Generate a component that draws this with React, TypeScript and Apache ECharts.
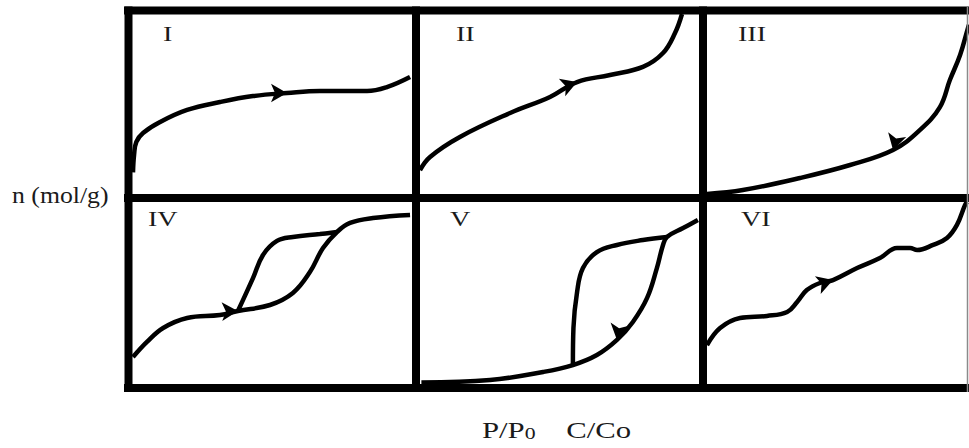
import React, { useEffect, useRef } from "react";
import * as echarts from "echarts";

// Isotherm types I–VI: x = relative pressure (P/P0 or C/Co), y = amount adsorbed n (normalised)
const panelLabels = ["I", "II", "III", "IV", "V", "VI"];

const typeI: number[][] = [
  [0, 0.12], [0.004, 0.22], [0.012, 0.29], [0.036, 0.339], [0.097, 0.4], [0.194, 0.467],
  [0.312, 0.511], [0.43, 0.544], [0.552, 0.561], [0.67, 0.572], [0.839, 0.572],
  [0.91, 0.594], [0.993, 0.65],
];

const typeII: number[][] = [
  [0, 0.133], [0.036, 0.206], [0.143, 0.317], [0.323, 0.45], [0.466, 0.539],
  [0.563, 0.622], [0.681, 0.661], [0.799, 0.706], [0.871, 0.783], [0.914, 0.894],
  [0.939, 1.0],
];

const typeIII: number[][] = [
  [0, 0.0], [0.137, 0.022], [0.355, 0.089], [0.546, 0.161], [0.71, 0.244],
  [0.813, 0.356], [0.889, 0.483], [0.927, 0.633], [0.966, 0.772], [0.996, 0.922],
  [1.0, 0.94],
];

const typeIVAdsorption: number[][] = [
  [0, 0.148], [0.05, 0.231], [0.108, 0.308], [0.194, 0.363], [0.312, 0.379],
  [0.376, 0.401], [0.491, 0.434], [0.573, 0.5], [0.634, 0.615], [0.681, 0.747],
  [0.731, 0.835], [0.778, 0.885], [0.86, 0.912], [0.993, 0.929],
];
const typeIVDesorption: number[][] = [
  [0.731, 0.835], [0.67, 0.824], [0.573, 0.808], [0.516, 0.786], [0.466, 0.709],
  [0.43, 0.582], [0.376, 0.401],
];

const typeVAdsorption: number[][] = [
  [0.005, 0.008], [0.251, 0.022], [0.441, 0.066], [0.548, 0.104], [0.634, 0.159],
  [0.706, 0.242], [0.763, 0.341], [0.814, 0.473], [0.849, 0.637], [0.871, 0.764],
  [0.885, 0.808], [0.943, 0.857], [0.996, 0.901],
];
const typeVDesorption: number[][] = [
  [0.885, 0.808], [0.799, 0.791], [0.706, 0.764], [0.634, 0.725], [0.584, 0.637],
  [0.563, 0.505], [0.55, 0.308], [0.548, 0.104],
];

const typeVI: number[][] = [
  [0, 0.214], [0.05, 0.308], [0.126, 0.363], [0.229, 0.374], [0.306, 0.396],
  [0.344, 0.451], [0.381, 0.516], [0.431, 0.555], [0.481, 0.571], [0.573, 0.637],
  [0.66, 0.692], [0.725, 0.747], [0.775, 0.747], [0.802, 0.736], [0.863, 0.764],
  [0.916, 0.802], [0.954, 0.874], [0.985, 0.984], [0.993, 1.0],
];

// Direction markers on each isotherm: [x, y]
const markerPoints: number[][] = [
  [0.552, 0.561], [0.563, 0.622], [0.71, 0.244],
  [0.376, 0.401], [0.706, 0.242], [0.481, 0.571],
];
const markerRotation = [-90, -70, 165, -88, 170, -72];

const curves: number[][][][] = [
  [typeI], [typeII], [typeIII],
  [typeIVAdsorption, typeIVDesorption],
  [typeVAdsorption, typeVDesorption],
  [typeVI],
];

// Panel placement in pixels
const colLeft = [133, 420, 707];
const colWidth = [279, 279, 262];
const rowTop = [14, 202];
const rowHeight = [180, 182];

export default function App() {
  const ref = useRef<HTMLDivElement>(null);

  useEffect(() => {
    if (!ref.current) return;
    const chart = echarts.init(ref.current, null, { renderer: "svg" });

    const grids: any[] = [];
    const xAxes: any[] = [];
    const yAxes: any[] = [];
    const series: any[] = [];

    panelLabels.forEach((_, i) => {
      const col = i % 3;
      const row = Math.floor(i / 3);
      grids.push({
        left: colLeft[col],
        top: rowTop[row],
        width: colWidth[col],
        height: rowHeight[row],
        containLabel: false,
      });
      xAxes.push({ type: "value", gridIndex: i, min: 0, max: 1, show: false });
      yAxes.push({ type: "value", gridIndex: i, min: 0, max: 1, show: false });
      curves[i].forEach((data) => {
        series.push({
          type: "line",
          xAxisIndex: i,
          yAxisIndex: i,
          data,
          smooth: 0.4,
          showSymbol: false,
          lineStyle: { color: "#000", width: 4.5 },
          silent: true,
        });
      });
      series.push({
        type: "scatter",
        xAxisIndex: i,
        yAxisIndex: i,
        data: [markerPoints[i]],
        symbol: "arrow",
        symbolSize: [14, 16],
        symbolRotate: markerRotation[i],
        itemStyle: { color: "#000", opacity: 1 },
        silent: true,
        z: 5,
      });
    });

    const frame = { stroke: "#000", lineWidth: 8 };
    const serif = "'Liberation Serif', 'DejaVu Serif', serif";
    const stretch = 1.28;

    const numeralPos = [
      [163, 44], [456, 44], [738, 44],
      [148, 229], [450, 229], [741, 229],
    ];

    const graphic: any[] = [
      { type: "line", z: 100, shape: { x1: 124, y1: 10.5, x2: 975, y2: 10.5 }, style: frame },
      { type: "line", z: 100, shape: { x1: 124, y1: 198, x2: 975, y2: 198 }, style: frame },
      { type: "line", z: 100, shape: { x1: 124, y1: 388, x2: 975, y2: 388 }, style: frame },
      { type: "line", z: 100, shape: { x1: 128.5, y1: 6.5, x2: 128.5, y2: 392 }, style: frame },
      { type: "line", z: 100, shape: { x1: 416, y1: 6.5, x2: 416, y2: 392 }, style: frame },
      { type: "line", z: 100, shape: { x1: 703, y1: 6.5, x2: 703, y2: 392 }, style: frame },
      { type: "line", z: 100, shape: { x1: 967.5, y1: 7, x2: 967.5, y2: 392 }, style: { stroke: "#8a8a8a", lineWidth: 1.5 } },
      ...panelLabels.map((label, i) => ({
        type: "text",
        z: 110,
        x: numeralPos[i][0],
        y: numeralPos[i][1],
        scaleX: stretch,
        style: {
          text: label,
          font: `22px ${serif}`,
          fill: "#1a1a1a",
          textAlign: "left",
          textVerticalAlign: "bottom",
        },
      })),
      {
        type: "text",
        z: 110,
        x: 12,
        y: 195,
        scaleX: 1.12,
        style: {
          text: "n (mol/g)",
          font: `23px ${serif}`,
          fill: "#1a1a1a",
          textAlign: "left",
          textVerticalAlign: "middle",
        },
      },
      {
        type: "text",
        z: 110,
        x: 482,
        y: 442,
        scaleX: stretch,
        style: {
          text: "{t|P/P}{s|0}{t|    C/Co}",
          fill: "#1a1a1a",
          textAlign: "left",
          textVerticalAlign: "bottom",
          rich: {
            t: { fontFamily: serif, fontSize: 24, fill: "#1a1a1a" },
            s: { fontFamily: serif, fontSize: 17, fill: "#1a1a1a", verticalAlign: "bottom" },
          },
        },
      },
    ];

    chart.setOption({
      animation: false,
      backgroundColor: "#fff",
      grid: grids,
      xAxis: xAxes,
      yAxis: yAxes,
      series,
      graphic,
    });

    return () => chart.dispose();
  }, []);

  return (
    <div
      ref={ref}
      style={{ position: "fixed", left: 0, top: 0, width: 969, height: 448, background: "#fff" }}
    />
  );
}
